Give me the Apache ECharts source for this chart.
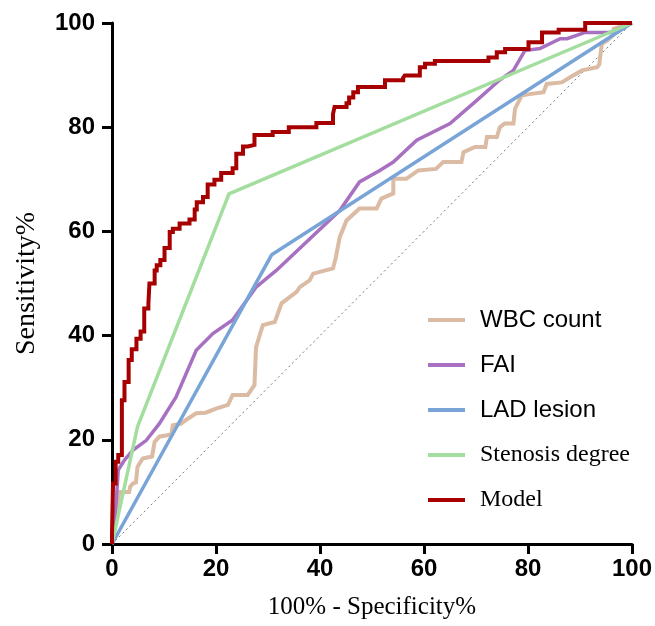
<!DOCTYPE html>
<html>
<head>
<meta charset="utf-8">
<script src="https://cdn.jsdelivr.net/npm/echarts@6/dist/echarts.min.js"></script>
<style>
html,body{margin:0;padding:0;background:#fff;}
#chart{width:655px;height:626px;}
</style>
</head>
<body>
<div id="chart"></div>
<script>
// ---- data ----
const tickValues = [0, 20, 40, 60, 80, 100];
const seriesNames = ['WBC count', 'FAI', 'LAD lesion', 'Stenosis degree', 'Model'];

const wbcPts = [[0,0],[0.5,3],[1.0,6],[1.4,10.0],[3.3,10.0],[3.5,11.0],[4.0,11.6],[4.6,11.8],[4.9,14.8],[5.9,16.4],[7.7,16.8],[8.2,19.6],[9.1,20.6],[11.4,21.0],[11.7,22.8],[13.3,23.1],[14.5,24.0],[16.2,25.1],[18.0,25.2],[20.0,26.0],[22.3,26.7],[23.2,28.6],[26.1,28.6],[27.4,30.5],[27.7,37.8],[29.0,42.0],[31.3,42.6],[32.6,46.2],[35.5,48.4],[36.1,49.3],[38.0,50.6],[38.7,51.9],[42.5,52.9],[43.0,54.8],[43.8,58.9],[45.1,62.1],[47.6,64.4],[50.9,64.4],[51.8,66.3],[54.1,67.3],[54.1,70.1],[56.6,70.1],[58.9,71.7],[62.3,72.0],[63.7,73.3],[67.2,73.3],[67.6,75.2],[69.8,76.2],[71.8,76.2],[72.1,78.1],[74.0,78.1],[74.6,80.0],[75.5,80.7],[77.2,80.7],[77.5,83.5],[78.8,86.1],[80.0,86.3],[83.0,86.7],[83.6,88.3],[86.5,88.6],[88.1,89.6],[90.4,90.9],[93.3,91.5],[93.7,92.0],[94.2,96.0],[95.2,96.6],[96.3,97.6],[96.5,98.9],[98.4,99.5],[100,100]];

const faiPts = [[0,0],[0.8,8],[1.2,14.2],[2.4,16.1],[4.0,18.0],[6.6,19.9],[9.1,23.1],[12.3,28.2],[16.2,37.2],[19.4,40.4],[23.2,43.0],[27.7,49.3],[31.6,52.5],[43.8,64.0],[47.6,69.5],[51.5,71.7],[54.1,73.3],[58.6,77.5],[65.0,80.7],[70.1,85.1],[74.5,89.0],[77.2,90.9],[79.4,94.7],[82.3,95.1],[86.2,97.0],[87.5,97.0],[91.0,98.2],[95.8,98.2],[100,100]];

const ladPts = [[0,0],[30.7,55.5],[100,100]];

const stenosisPts = [[0,0],[4.9,22.5],[22.5,67.2],[100,100]];

const modelPts = [[0,0],[0,2],[0.2,2],[0.2,11.6],[0.7,11.6],[0.7,15.8],[1.2,15.8],[1.2,17.1],[1.9,17.1],[1.9,27.6],[2.4,27.6],[2.4,31.1],[3.2,31.1],[3.2,35.3],[3.8,35.3],[3.8,37.4],[4.7,37.4],[4.7,39.4],[5.5,39.4],[5.5,40.8],[6.2,40.8],[6.2,45.2],[7.0,45.2],[7.0,46.2],[7.2,46.2],[7.2,50.0],[8.2,50.0],[8.2,52.5],[8.6,52.5],[8.6,53.5],[9.3,53.5],[9.3,54.5],[10.1,54.5],[10.1,56.8],[11.1,56.8],[11.1,59.9],[11.7,59.9],[11.7,60.5],[13.0,60.5],[13.0,61.5],[14.9,61.5],[14.9,62.3],[15.9,62.3],[15.9,64.2],[16.3,64.2],[16.3,65.6],[17.5,65.6],[17.5,66.6],[18.4,66.6],[18.4,69.0],[19.7,69.0],[19.7,69.9],[21.0,69.9],[21.0,71.2],[23.2,71.2],[23.2,72.1],[23.9,72.1],[23.9,74.9],[25.2,74.9],[25.2,76.3],[26.1,76.3],[26.1,76.6],[27.4,76.6],[27.4,78.5],[30.9,78.5],[30.9,79.1],[34.0,79.1],[34.0,80.0],[39.3,80.0],[39.3,80.8],[42.5,80.8],[42.5,82.5],[42.8,82.5],[42.8,83.9],[45.1,83.9],[45.1,84.6],[45.6,84.6],[45.6,85.7],[46.4,85.7],[46.4,86.7],[47.3,86.7],[47.3,87.7],[52.5,87.7],[52.5,89.0],[56.0,89.0],[56.0,89.5],[56.3,89.5],[56.3,89.9],[59.2,89.9],[59.2,91.5],[60.2,91.5],[60.2,92.2],[62.1,92.2],[62.1,92.7],[72.4,92.7],[72.4,93.4],[74.0,93.4],[74.0,94.4],[75.6,94.4],[75.6,95.0],[80.1,95.0],[80.1,96.3],[82.7,96.3],[82.7,98.2],[85.9,98.2],[85.9,98.7],[91.0,98.7],[91.0,100],[100,100]];

const diagonalPts = [[0,0],[100,100]];

// ---- styles ----
const colors = {
  'WBC count': '#dbbba4',
  'FAI': '#a870c0',
  'LAD lesion': '#78a4d8',
  'Stenosis degree': '#a4de9f',
  'Model': '#a60000'
};
const widths = {'WBC count': 4, 'FAI': 3.5, 'LAD lesion': 3.5, 'Stenosis degree': 3.5, 'Model': 4};
const legendFonts = {
  'WBC count': 'Liberation Sans, Arial, sans-serif',
  'FAI': 'Liberation Sans, Arial, sans-serif',
  'LAD lesion': 'Liberation Sans, Arial, sans-serif',
  'Stenosis degree': 'Liberation Serif, Times New Roman, serif',
  'Model': 'Liberation Serif, Times New Roman, serif'
};
const dataByName = {
  'WBC count': wbcPts, 'FAI': faiPts, 'LAD lesion': ladPts,
  'Stenosis degree': stenosisPts, 'Model': modelPts
};

const chart = echarts.init(document.getElementById('chart'), null, {renderer: 'canvas'});

const axisCommon = {
  type: 'value', min: 0, max: 100, interval: 20,
  axisLine: {show: true, onZero: false, lineStyle: {color: '#000', width: 3}},
  axisTick: {show: true, inside: false, length: 10, lineStyle: {color: '#000', width: 3}},
  splitLine: {show: false},
  axisLabel: {
    color: '#000', fontWeight: 'bold', fontSize: 24,
    fontFamily: 'Liberation Sans, Arial, sans-serif'
  },
  nameLocation: 'middle',
  nameTextStyle: {color: '#000', fontFamily: 'Liberation Serif, Times New Roman, serif'}
};

const series = [{
  type: 'line', name: 'ref', data: diagonalPts, symbol: 'none', silent: true,
  lineStyle: {color: '#777', width: 1, type: [2, 3]}, z: 1
}];
seriesNames.forEach((n, i) => {
  series.push({
    type: 'line', name: n, data: dataByName[n], symbol: 'none',
    lineStyle: {color: colors[n], width: widths[n], join: 'miter'},
    itemStyle: {color: colors[n]},
    z: 2 + (n === 'Model' ? 10 : i)
  });
});

chart.setOption({
  animation: false,
  backgroundColor: '#fff',
  grid: {left: 112, right: 23, top: 23, bottom: 82, containLabel: false},
  xAxis: Object.assign({}, axisCommon, {
    name: '100% - Specificity%', nameGap: 51,
    nameTextStyle: Object.assign({}, axisCommon.nameTextStyle, {fontSize: 25}),
    axisLabel: Object.assign({}, axisCommon.axisLabel, {margin: 13})
  }),
  yAxis: Object.assign({}, axisCommon, {
    name: 'Sensitivity%', nameGap: 71,
    nameTextStyle: Object.assign({}, axisCommon.nameTextStyle, {fontSize: 28}),
    axisLabel: Object.assign({}, axisCommon.axisLabel, {margin: 17})
  }),
  legend: {
    orient: 'vertical', left: 423, top: 303,
    icon: 'rect', itemWidth: 37, itemHeight: 4, itemGap: 21,
    textStyle: {fontSize: 24, color: '#000', padding: [0, 0, 0, 10], lineHeight: 24},
    data: seriesNames.map(n => ({name: n, textStyle: {fontFamily: legendFonts[n]}}))
  },
  series: series
});
</script>
</body>
</html>
